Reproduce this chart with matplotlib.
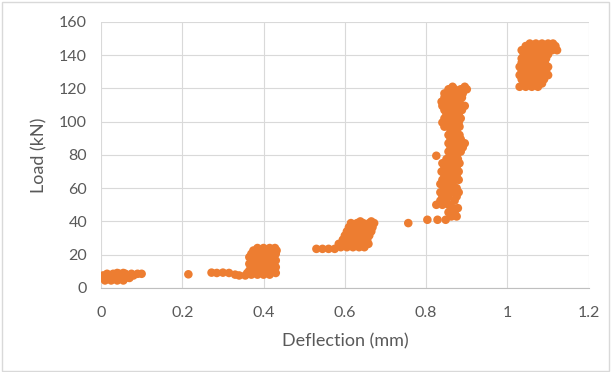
#!/usr/bin/python3

import matplotlib.pyplot as plt
from matplotlib.patches import Rectangle

# each cluster as rows of (load kN, [deflections mm])
c1_rows = [
    (4.5, [0.01, 0.025, 0.04, 0.055]),
    (6.0, [0.0, 0.015, 0.03, 0.045, 0.06, 0.07]),
    (7.5, [0.005, 0.02, 0.035, 0.05, 0.065, 0.08]),
    (8.5, [0.015, 0.03, 0.045, 0.06, 0.075, 0.09, 0.1]),
    (9.0, [0.04, 0.055]),
]
c2_rows = [
    (8.2, [0.215]),
]
c3_rows = [
    (7.5, [0.34, 0.355]),
    (8.0, [0.33, 0.37, 0.385, 0.40, 0.415]),
    (9.0, [0.285, 0.315, 0.36, 0.43]),
    (9.2, [0.272, 0.3]),
    (10.5, [0.365, 0.38, 0.395, 0.41, 0.425]),
    (12.5, [0.37, 0.385, 0.4, 0.415, 0.43]),
    (14.5, [0.365, 0.38, 0.395, 0.41, 0.425]),
    (16.5, [0.37, 0.385, 0.4, 0.415, 0.43]),
    (18.5, [0.365, 0.38, 0.395, 0.41, 0.425]),
    (20.5, [0.37, 0.385, 0.4, 0.415, 0.43]),
    (22.5, [0.375, 0.39, 0.405, 0.42, 0.432]),
    (24.0, [0.385, 0.40, 0.415, 0.428]),
]
c4_rows = [
    (23.5, [0.53, 0.545, 0.56, 0.575]),
    (24.5, [0.59, 0.605, 0.62, 0.635, 0.648]),
    (26.5, [0.585, 0.6, 0.615, 0.63, 0.645, 0.658]),
    (29.0, [0.595, 0.61, 0.625, 0.64, 0.655]),
    (31.5, [0.6, 0.615, 0.63, 0.645, 0.66]),
    (34.0, [0.605, 0.62, 0.635, 0.65, 0.665]),
    (36.5, [0.61, 0.625, 0.64, 0.655, 0.668]),
    (39.0, [0.615, 0.63, 0.645, 0.66, 0.672]),
    (40.0, [0.638, 0.665]),
]
c5_rows = [
    (39.0, [0.756]),
    (41.0, [0.803, 0.828, 0.848]),
    (43.0, [0.862, 0.875]),
    (45.5, [0.855, 0.87]),
    (48.0, [0.865, 0.878]),
    (50.0, [0.825, 0.84, 0.855]),
    (52.5, [0.835, 0.85, 0.87]),
    (55.0, [0.84, 0.855, 0.875]),
    (57.5, [0.835, 0.85, 0.865, 0.88]),
    (60.0, [0.845, 0.86, 0.875]),
    (62.5, [0.835, 0.85, 0.865]),
    (65.0, [0.84, 0.855, 0.87, 0.88]),
    (67.5, [0.845, 0.86, 0.875]),
    (70.0, [0.838, 0.852, 0.868, 0.88]),
    (72.5, [0.845, 0.86, 0.875]),
    (75.0, [0.84, 0.855, 0.87, 0.882]),
    (77.5, [0.85, 0.865, 0.878]),
    (79.5, [0.825, 0.86, 0.875]),
    (82.0, [0.855, 0.87, 0.885]),
    (84.5, [0.86, 0.875, 0.89]),
    (87.0, [0.855, 0.87, 0.885, 0.895]),
    (89.5, [0.86, 0.875, 0.885]),
    (92.0, [0.855, 0.87, 0.882]),
    (94.5, [0.86, 0.875]),
    (97.0, [0.845, 0.858, 0.872, 0.882]),
    (99.5, [0.84, 0.855, 0.87, 0.88]),
    (102.0, [0.845, 0.86, 0.875, 0.885]),
    (104.5, [0.85, 0.865, 0.88]),
    (107.0, [0.845, 0.86, 0.875, 0.888]),
    (109.5, [0.84, 0.855, 0.87, 0.885, 0.895]),
    (112.0, [0.838, 0.852, 0.868, 0.882]),
    (114.5, [0.845, 0.86, 0.875, 0.888]),
    (117.0, [0.845, 0.86, 0.875, 0.89]),
    (119.5, [0.855, 0.87, 0.885, 0.9]),
    (121.0, [0.865, 0.895]),
]
c6_rows = [
    (121.0, [1.03, 1.045, 1.06, 1.075]),
    (123.0, [1.04, 1.055, 1.07, 1.085]),
    (125.5, [1.035, 1.05, 1.065, 1.08, 1.09]),
    (128.0, [1.03, 1.045, 1.06, 1.075, 1.09, 1.1]),
    (130.5, [1.035, 1.05, 1.065, 1.08, 1.095]),
    (133.0, [1.03, 1.045, 1.06, 1.075, 1.09, 1.1]),
    (135.5, [1.035, 1.05, 1.065, 1.08, 1.092]),
    (138.0, [1.035, 1.05, 1.065, 1.08, 1.095]),
    (140.5, [1.04, 1.055, 1.07, 1.085, 1.1]),
    (143.0, [1.035, 1.05, 1.065, 1.08, 1.095, 1.11, 1.122]),
    (145.5, [1.045, 1.06, 1.075, 1.09, 1.105, 1.118]),
    (147.0, [1.055, 1.07, 1.085, 1.1, 1.112]),
]

xticks = [0, 0.2, 0.4, 0.6, 0.8, 1.0, 1.2]
xtick_labels = ['0', '0.2', '0.4', '0.6', '0.8', '1', '1.2']
yticks = [0, 20, 40, 60, 80, 100, 120, 140, 160]

deflection = []
load = []
for rows in [c1_rows, c2_rows, c3_rows, c4_rows, c5_rows, c6_rows]:
    for yv, xs in rows:
        for xv in xs:
            deflection.append(xv)
            load.append(yv)

plt.rcParams['font.family'] = ['Lato', 'DejaVu Sans']
grey = '#595959'

fig = plt.figure(figsize=(6.12, 3.72), dpi=100)
fig.patches.append(Rectangle((0.004, 0.004), 0.991, 0.99, transform=fig.transFigure,
                             fill=False, edgecolor='#D9D9D9', lw=1))
ax = fig.add_axes([0.165, 0.226, 0.797, 0.715])

ax.scatter(deflection, load, s=38, color='#ED7D31', edgecolors='none', zorder=3)

ax.set_xlim(0, 1.2)
ax.set_ylim(0, 160)
ax.set_xticks(xticks)
ax.set_xticklabels(xtick_labels)
ax.set_yticks(yticks)
ax.grid(True, color='#D9D9D9', lw=0.8)
ax.set_axisbelow(True)
for s in ['top', 'right', 'left']:
    ax.spines[s].set_visible(False)
ax.spines['bottom'].set_color('#BFBFBF')
ax.tick_params(length=0, labelsize=11.5, labelcolor=grey)
ax.tick_params(axis='x', pad=13)
ax.tick_params(axis='y', pad=10)

ax.set_xlabel('Deflection (mm)', fontsize=13, color=grey)
ax.set_ylabel('Load (kN)', fontsize=13, color=grey)
ax.xaxis.set_label_coords(0.5, -0.17)
ax.yaxis.set_label_coords(-0.11, 0.5)

fig.savefig('out.png', dpi=100)
